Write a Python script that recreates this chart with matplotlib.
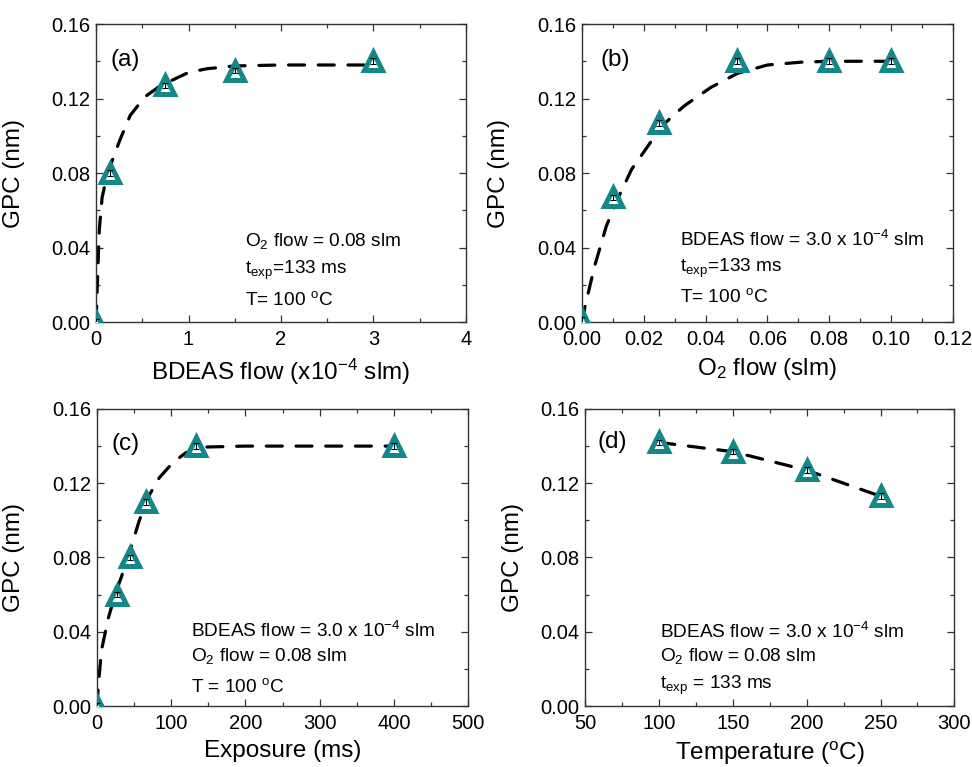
import matplotlib
matplotlib.use("Agg")
import matplotlib.pyplot as plt
from matplotlib.ticker import MultipleLocator, AutoMinorLocator, FormatStrFormatter

plt.rcParams['font.family'] = ['Liberation Sans', 'DejaVu Sans']
plt.rcParams['mathtext.fontset'] = 'custom'
plt.rcParams['mathtext.rm'] = 'Liberation Sans'
plt.rcParams['mathtext.it'] = 'Liberation Sans:italic'
plt.rcParams['mathtext.bf'] = 'Liberation Sans:bold'

# (a) GPC vs BDEAS flow (x10^-4 slm)
bdeas_flow = [0.0, 0.15, 0.75, 1.5, 3.0]
gpc_a = [0.0, 0.080, 0.127, 0.135, 0.140]
fit_a_x = [0.0, 0.008, 0.014, 0.025, 0.036, 0.066, 0.12, 0.17, 0.26, 0.37,
           0.53, 0.70, 0.83, 1.0, 1.2, 1.5, 2.0, 3.0]
fit_a_y = [0.0, 0.010, 0.020, 0.036, 0.050, 0.067, 0.079, 0.086, 0.098, 0.111,
           0.121, 0.127, 0.130, 0.134, 0.136, 0.1375, 0.138, 0.138]

# (b) GPC vs O2 flow (slm)
o2_flow = [0.0, 0.01, 0.025, 0.05, 0.08, 0.10]
gpc_b = [0.001, 0.067, 0.107, 0.140, 0.140, 0.140]
fit_b_x = [0.0, 0.0009, 0.004, 0.0078, 0.0116, 0.016, 0.0213, 0.0256, 0.033,
           0.0417, 0.0503, 0.060, 0.0708, 0.080, 0.10]
fit_b_y = [0.0, 0.0084, 0.030, 0.0515, 0.0665, 0.082, 0.0945, 0.105, 0.116,
           0.126, 0.1335, 0.138, 0.1395, 0.140, 0.140]

# (c) GPC vs exposure time (ms)
exposure = [0.0, 27, 44, 66, 133, 400]
gpc_c = [0.0, 0.060, 0.080, 0.110, 0.140, 0.140]
fit_c_x = [0, 2, 6, 15, 24, 35, 46, 57, 71, 84, 102, 120, 147, 200, 400]
fit_c_y = [0.0, 0.012, 0.030, 0.047, 0.0595, 0.072, 0.0855, 0.100, 0.114,
           0.123, 0.131, 0.1365, 0.1395, 0.140, 0.140]

# (d) GPC vs deposition temperature (C)
temperature = [100, 150, 200, 250]
gpc_d = [0.142, 0.137, 0.127, 0.113]

err = 0.0015
teal = '#148888'

panels = [
    dict(rect=[0.0988, 0.580, 0.3806, 0.3887], x=bdeas_flow, y=gpc_a,
         fx=fit_a_x, fy=fit_a_y, xlim=(0, 4), xmaj=1, xfmt='%g',
         xlabel=r'BDEAS flow (x10$^{\mathregular{-4}}$ slm)', tag='(a)',
         tagpos=(0.038, 0.86), ylab_x=-0.192,
         notes=[r'O$_\mathregular{2}$ flow = 0.08 slm',
                r't$_\mathregular{exp}$=133 ms',
                r'T= 100 $^\mathregular{o}$C'],
         notes_x=0.403, notes_y=[0.255, 0.161, 0.057]),
    dict(rect=[0.5990, 0.580, 0.3810, 0.3887], x=o2_flow, y=gpc_b,
         fx=fit_b_x, fy=fit_b_y, xlim=(0, 0.12), xmaj=0.02, xfmt='%.2f',
         xlabel=r'O$_\mathregular{2}$ flow (slm)', tag='(b)',
         tagpos=(0.049, 0.86), ylab_x=-0.194,
         notes=[r'BDEAS flow = 3.0 x 10$^{\mathregular{-4}}$ slm',
                r't$_\mathregular{exp}$=133 ms',
                r'T= 100 $^\mathregular{o}$C'],
         notes_x=0.264, notes_y=[0.255, 0.168, 0.067]),
    dict(rect=[0.0998, 0.0795, 0.3817, 0.3873], x=exposure, y=gpc_c,
         fx=fit_c_x, fy=fit_c_y, xlim=(0, 500), xmaj=100, xfmt='%g',
         xlabel='Exposure (ms)', tag='(c)',
         tagpos=(0.04, 0.862), ylab_x=-0.194,
         notes=[r'BDEAS flow = 3.0 x 10$^{\mathregular{-4}}$ slm',
                r'O$_\mathregular{2}$ flow = 0.08 slm',
                r'T = 100 $^\mathregular{o}$C'],
         notes_x=0.2525, notes_y=[0.2315, 0.152, 0.047]),
    dict(rect=[0.6019, 0.0795, 0.3800, 0.3873], x=temperature, y=gpc_d,
         fx=temperature, fy=gpc_d, xlim=(50, 300), xmaj=50, xfmt='%g',
         xlabel=r'Temperature ($^\mathregular{o}$C)', tag='(d)',
         tagpos=(0.035, 0.869), ylab_x=-0.164,
         notes=[r'BDEAS flow = 3.0 x 10$^{\mathregular{-4}}$ slm',
                r'O$_\mathregular{2}$ flow = 0.08 slm',
                r't$_\mathregular{exp}$ = 133 ms'],
         notes_x=0.202, notes_y=[0.23, 0.151, 0.057]),
]

fig = plt.figure(figsize=(9.72, 7.67), dpi=100)

for p in panels:
    ax = fig.add_axes(p['rect'])
    ax.plot(p['fx'], p['fy'], color='black', lw=2.3, ls=(0, (5.0, 4.3)),
            solid_capstyle='round', dash_capstyle='round', zorder=2)
    ax.plot(p['x'], p['y'], ls='none', marker='^', ms=12.5, mfc='white',
            mec=teal, mew=3.6, zorder=3)
    ax.errorbar(p['x'], p['y'], yerr=err, fmt='none', ecolor='black',
                elinewidth=0.8, capsize=2.0, capthick=0.8, zorder=4)
    ax.set_xlim(*p['xlim'])
    ax.set_ylim(0, 0.16)
    ax.xaxis.set_major_locator(MultipleLocator(p['xmaj']))
    ax.xaxis.set_minor_locator(AutoMinorLocator(2))
    ax.yaxis.set_major_locator(MultipleLocator(0.04))
    ax.yaxis.set_minor_locator(AutoMinorLocator(2))
    ax.xaxis.set_major_formatter(FormatStrFormatter(p['xfmt']))
    ax.yaxis.set_major_formatter(FormatStrFormatter('%.2f'))
    ax.tick_params(which='both', direction='in', top=True, right=True,
                   color='#333333', width=0.9, labelsize=14.5)
    ax.tick_params(axis='x', which='both', pad=6)
    ax.tick_params(axis='y', which='both', pad=4)
    ax.tick_params(which='major', length=5)
    ax.tick_params(which='minor', length=3)
    for s in ax.spines.values():
        s.set_color('#333333')
        s.set_linewidth(1.0)
    ax.set_ylabel('GPC (nm)', fontsize=17.5)
    ax.yaxis.set_label_coords(p['ylab_x'], 0.5)
    ax.set_xlabel(p['xlabel'], fontsize=17.5)
    ax.xaxis.set_label_coords(0.5, -0.115)
    ax.text(p['tagpos'][0], p['tagpos'][1], p['tag'], transform=ax.transAxes,
            fontsize=17.5, va='baseline', ha='left')
    for t, yy in zip(p['notes'], p['notes_y']):
        ax.text(p['notes_x'], yy, t, transform=ax.transAxes, fontsize=13.7,
                va='baseline', ha='left')

fig.savefig('out.png', dpi=100)
